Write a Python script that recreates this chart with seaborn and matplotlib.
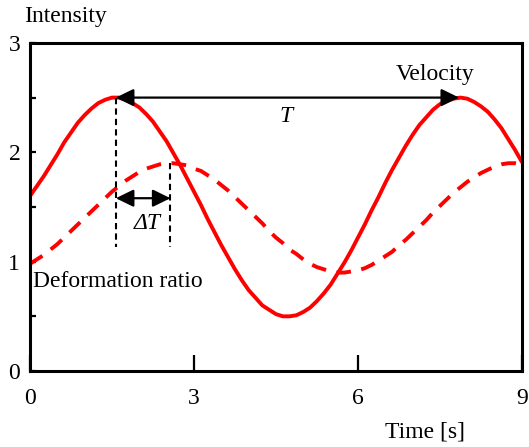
import numpy as np
import pandas as pd
import matplotlib.pyplot as plt
import seaborn as sns

# time axis [s], sampled every 0.125 s
time = np.linspace(0, 9, 73)

# the two signals
velocity = [1.60, 1.69, 1.78, 1.88, 1.98, 2.09, 2.18, 2.27, 2.34, 2.40, 2.45, 2.48,
            2.50, 2.50, 2.48, 2.45, 2.41, 2.35, 2.28, 2.19, 2.10, 1.99, 1.88, 1.76,
            1.64, 1.52, 1.39, 1.27, 1.15, 1.04, 0.93, 0.83, 0.74, 0.67, 0.60, 0.56,
            0.52, 0.50, 0.50, 0.51, 0.54, 0.58, 0.64, 0.71, 0.79, 0.89, 0.99, 1.10,
            1.22, 1.34, 1.47, 1.59, 1.72, 1.84, 1.95, 2.06, 2.16, 2.25, 2.32, 2.39,
            2.44, 2.47, 2.49, 2.50, 2.49, 2.46, 2.42, 2.37, 2.30, 2.22, 2.12, 2.02,
            1.91]
deformation = [0.98, 1.02, 1.06, 1.11, 1.16, 1.22, 1.28, 1.34, 1.40, 1.46, 1.52, 1.58,
               1.64, 1.69, 1.74, 1.78, 1.82, 1.85, 1.87, 1.89, 1.90, 1.90, 1.89, 1.88,
               1.85, 1.83, 1.79, 1.75, 1.70, 1.65, 1.59, 1.53, 1.47, 1.41, 1.35, 1.28,
               1.22, 1.17, 1.11, 1.07, 1.02, 0.98, 0.95, 0.93, 0.91, 0.90, 0.90, 0.91,
               0.92, 0.94, 0.97, 1.01, 1.05, 1.09, 1.15, 1.20, 1.26, 1.32, 1.38, 1.45,
               1.51, 1.57, 1.63, 1.68, 1.73, 1.77, 1.81, 1.84, 1.87, 1.89, 1.90, 1.90,
               1.89]

# positions for the period / phase-lag annotation
t_peak1 = 1.57
t_peak2 = 7.85
t_lag = 2.57
peak_val = 2.5
lag_val = 1.9

df = pd.DataFrame({"time": time, "velocity": velocity, "deformation": deformation})

sns.set_style("ticks")
plt.rcParams["font.family"] = ["Liberation Serif", "DejaVu Serif"]
plt.rcParams["text.color"] = "black"
plt.rcParams["axes.labelcolor"] = "black"
plt.rcParams["xtick.color"] = "black"
plt.rcParams["ytick.color"] = "black"
FS = 17

fig = plt.figure(figsize=(5.29, 4.47), dpi=100)
ax = fig.add_axes([0.0567, 0.170, 0.930, 0.734])

sns.lineplot(data=df, x="time", y="velocity", ax=ax, color="#ff0000", lw=2.8)
sns.lineplot(data=df, x="time", y="deformation", ax=ax, color="#ff0000", lw=2.8)
ax.lines[-1].set_dashes((3.8, 2.7))

# vertical guides
ax.plot([t_peak1, t_peak1], [peak_val, 1.13], color="black", lw=1.5, dashes=(3, 2))
ax.plot([t_lag, t_lag], [lag_val, 1.13], color="black", lw=1.5, dashes=(3, 2))

arrow = dict(arrowstyle="<|-|>,head_length=0.45,head_width=0.22", color="black",
             lw=1.6, shrinkA=0, shrinkB=0, mutation_scale=24)
ax.annotate("", xy=(t_peak1, peak_val), xytext=(t_peak2, peak_val), arrowprops=arrow)
ax.annotate("", xy=(t_peak1, 1.58), xytext=(t_lag, 1.58), arrowprops=arrow)

ax.text(4.68, 2.33, "T", style="italic", fontsize=FS, ha="center", va="center")
ax.text(2.14, 1.35, "ΔT", style="italic", fontsize=FS, ha="center", va="center")
ax.text(7.42, 2.71, "Velocity", fontsize=FS, ha="center", va="center")
ax.text(0.05, 0.82, "Deformation ratio", fontsize=FS, ha="left", va="center")

ax.set_xlim(0, 9)
ax.set_ylim(0, 3)
ax.set_xticks([0, 3, 6, 9])
ax.set_yticks([0, 0.5, 1, 1.5, 2, 2.5, 3])
ax.set_yticklabels(["0", "", "1", "", "2", "", "3"])
ax.tick_params(axis="x", direction="in", length=11.5, width=1.6, pad=12, labelsize=FS)
ax.tick_params(axis="y", direction="in", length=4.3, width=1.6, pad=7, labelsize=FS)

ax.set_xlabel("Time [s]", fontsize=FS, va="center")
ax.xaxis.set_label_coords(0.803, -0.186)
ax.set_ylabel("Intensity", fontsize=FS, rotation=0, ha="left", va="center")
ax.yaxis.set_label_coords(-0.012, 1.079)

for s in ax.spines.values():
    s.set_visible(True)
    s.set_linewidth(2.2)
    s.set_color("black")

fig.savefig("out.png", dpi=100)
